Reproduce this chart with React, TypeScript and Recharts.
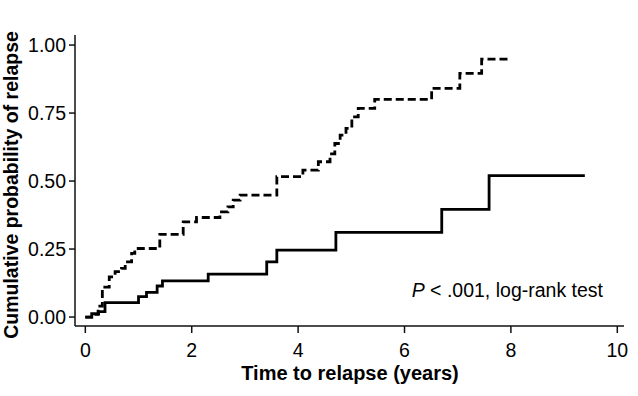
import { LineChart, Line, XAxis, YAxis } from "recharts";

// cumulative relapse, group shown with dashed line
const dashedTimes = [
  0, 0.12, 0.24, 0.32, 0.45, 0.56, 0.68, 0.75, 0.87, 0.93, 1.4, 1.84, 2.09,
  2.53, 2.68, 2.78, 2.91, 3.6, 4.09, 4.38, 4.6, 4.69, 4.79, 4.9, 5.01, 5.13,
  5.44, 6.51, 7.04, 7.45, 8.01,
];
const dashedRisk = [
  0, 0.01, 0.04, 0.11, 0.148, 0.167, 0.179, 0.203, 0.234, 0.252, 0.304, 0.35,
  0.366, 0.387, 0.405, 0.43, 0.448, 0.516, 0.54, 0.571, 0.6, 0.638, 0.669,
  0.694, 0.736, 0.767, 0.8, 0.841, 0.896, 0.948, 0.948,
];

// group shown with solid line
const solidTimes = [
  0, 0.12, 0.25, 0.37, 1.0, 1.15, 1.35, 1.45, 2.31, 3.41, 3.6, 4.71, 6.7,
  7.59, 9.39,
];
const solidRisk = [
  0, 0.012, 0.02, 0.053, 0.075, 0.091, 0.114, 0.133, 0.158, 0.203, 0.246,
  0.311, 0.396, 0.52, 0.52,
];

const xTicks = [0, 2, 4, 6, 8, 10];
const yTicks = [0, 0.25, 0.5, 0.75, 1];

const toRows = (times: number[], risk: number[]) =>
  times.map((t, i) => ({ time: t, risk: risk[i] }));

const FONT = "'Liberation Sans', Arial, Helvetica, sans-serif";

export default function App() {
  const dashedRows = toRows(dashedTimes, dashedRisk);
  const solidRows = toRows(solidTimes, solidRisk);

  const tickStyle = { fill: "#000", fontSize: 19.5, fontFamily: FONT };

  return (
    <div
      style={{
        position: "absolute",
        left: 0,
        top: 0,
        width: 638,
        height: 396,
        background: "#fff",
      }}
    >
      <LineChart
        width={638}
        height={396}
        margin={{ top: 35, right: 14, bottom: 0, left: 0 }}
      >
        <XAxis
          type="number"
          dataKey="time"
          domain={[-0.194, 10.126]}
          allowDataOverflow
          ticks={xTicks}
          height={70}
          tickSize={7}
          tickMargin={10}
          stroke="#111"
          strokeWidth={1.5}
          tick={tickStyle}
        />
        <YAxis
          type="number"
          domain={[-0.033, 1.037]}
          allowDataOverflow
          ticks={yTicks}
          width={75}
          tickSize={6}
          tickMargin={3}
          stroke="#111"
          strokeWidth={1.5}
          tick={tickStyle}
          tickFormatter={(v: number) => v.toFixed(2)}
        />
        <Line
          data={dashedRows}
          dataKey="risk"
          type="stepAfter"
          stroke="#000"
          strokeWidth={2.8}
          strokeDasharray="8 4"
          dot={false}
          isAnimationActive={false}
        />
        <Line
          data={solidRows}
          dataKey="risk"
          type="stepAfter"
          stroke="#000"
          strokeWidth={2.8}
          dot={false}
          isAnimationActive={false}
        />
      </LineChart>
      <svg
        width={638}
        height={396}
        style={{ position: "absolute", left: 0, top: 0, pointerEvents: "none" }}
      >
        <text
          x={350}
          y={380}
          textAnchor="middle"
          fontFamily={FONT}
          fontSize={20}
          fontWeight="bold"
          fill="#000"
        >
          Time to relapse (years)
        </text>
        <text
          transform="translate(18,185) rotate(-90)"
          textAnchor="middle"
          fontFamily={FONT}
          fontSize={19.5}
          fontWeight="bold"
          fill="#000"
        >
          Cumulative probability of relapse
        </text>
        <text
          x={603}
          y={297}
          textAnchor="end"
          fontFamily={FONT}
          fontSize={19.5}
          fill="#000"
        >
          <tspan fontStyle="italic">P</tspan> &lt; .001, log-rank test
        </text>
      </svg>
    </div>
  );
}
